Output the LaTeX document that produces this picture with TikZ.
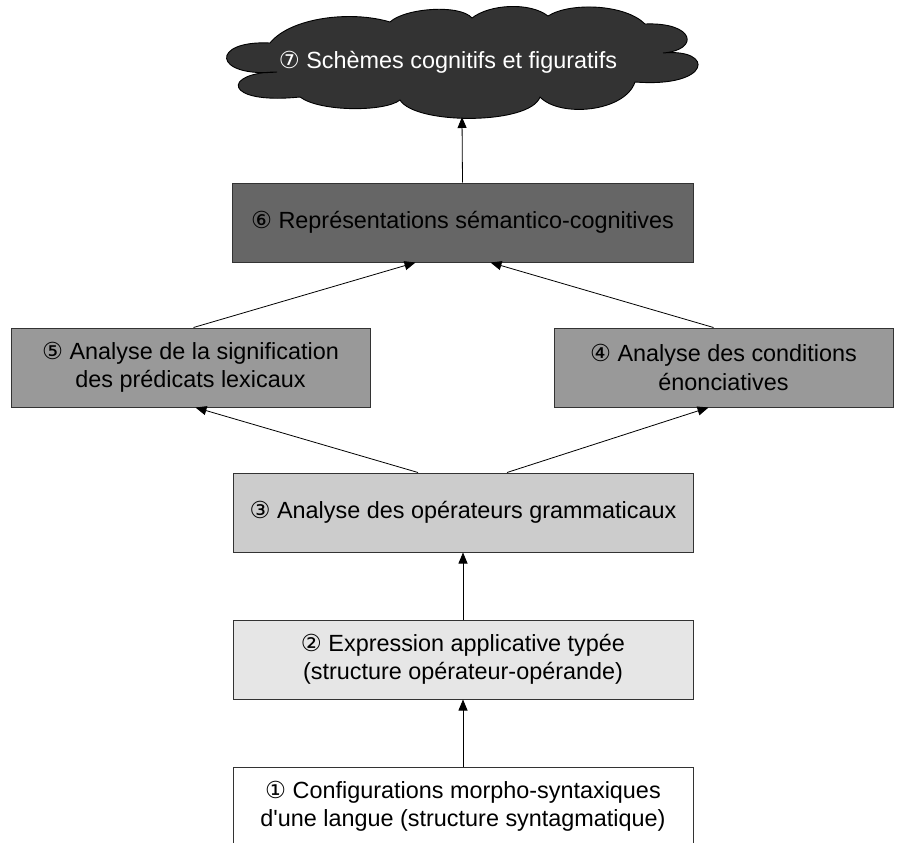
\documentclass[tikz,border=0pt]{standalone}
\usepackage{fontspec}
\setmainfont{Liberation Sans}
\newfontfamily\cn{DejaVu Sans}
\usetikzlibrary{arrows.meta}
\definecolor{c7}{HTML}{333333}
\definecolor{c6}{HTML}{666666}
\definecolor{c5}{HTML}{999999}
\definecolor{c3}{HTML}{CCCCCC}
\definecolor{c2}{HTML}{E6E6E6}
\begin{document}
\begin{tikzpicture}[x=1pt,y=-1pt,
  box/.style={draw=black!80, line width=1pt, minimum height=79pt, align=center,
    inner sep=0pt, font=\fontsize{23.4}{28.5}\selectfont},
  arr/.style={-{Triangle[length=11pt,width=9pt]}, line width=0.8pt},
  cloudtxt/.style={text=white, font=\fontsize{23.4}{28.5}\selectfont, inner sep=0pt}]
\useasboundingbox (0,0) rectangle (902,843);
\clip (0,0) rectangle (902,843);
% cloud
\draw[fill=c7, draw=black, line width=0.9pt]
  (270,43) .. controls (290,18) and (350,10) .. (390,22)
  .. controls (405,8) and (460,4) .. (472,18)
  .. controls (490,4) and (530,2) .. (548,16)
  .. controls (570,2) and (625,4) .. (645,24)
  .. controls (695,22) and (700,50) .. (663,53)
  .. controls (715,48) and (712,88) .. (635,82)
  .. controls (625,112) and (560,118) .. (540,97)
  .. controls (530,125) and (415,125) .. (400,100)
  .. controls (385,112) and (320,112) .. (300,97)
  .. controls (222,105) and (222,72) .. (277,72)
  .. controls (212,78) and (210,40) .. cycle;
\node[cloudtxt] (b7) at (448,62) {{\cn ⑦} Schèmes cognitifs et figuratifs};
\coordinate (b7b) at (462,117);
% boxes
\node[box, fill=c6, minimum width=461pt] (b6) at (462.5,222.5) {{\cn ⑥} Représentations sémantico-cognitives};
\node[box, fill=c5, minimum width=359pt] (b5) at (190.5,367.5) {{\cn ⑤} Analyse de la signification\\des prédicats lexicaux};
\node[box, fill=c5, minimum width=339pt] (b4) at (723.5,367.5) {{\cn ④} Analyse des conditions\\énonciatives};
\node[box, fill=c3, minimum width=460pt] (b3) at (463,512.5) {{\cn ③} Analyse des opérateurs grammaticaux};
\node[box, fill=c2, minimum width=460pt] (b2) at (463,659.5) {{\cn ②} Expression applicative typée\\(structure opérateur-opérande)};
\node[box, fill=white, minimum width=460pt] (b1) at (463,806.5) {{\cn ①} Configurations morpho-syntaxiques\\d\textquotesingle une langue (structure syntagmatique)};
% connectors
\draw[arr] (b6.north) -- (b7b);
\draw[arr] ([xshift=3pt]b5.north) -- ([xshift=-47pt]b6.south);
\draw[arr] ([xshift=-10pt]b4.north) -- ([xshift=28pt]b6.south);
\draw[arr] ([xshift=-45pt]b3.north) -- ([xshift=5pt]b5.south);
\draw[arr] ([xshift=44pt]b3.north) -- ([xshift=-15pt]b4.south);
\draw[arr] (b2.north) -- (b3.south);
\draw[arr] (b1.north) -- (b2.south);
\end{tikzpicture}
\end{document}
